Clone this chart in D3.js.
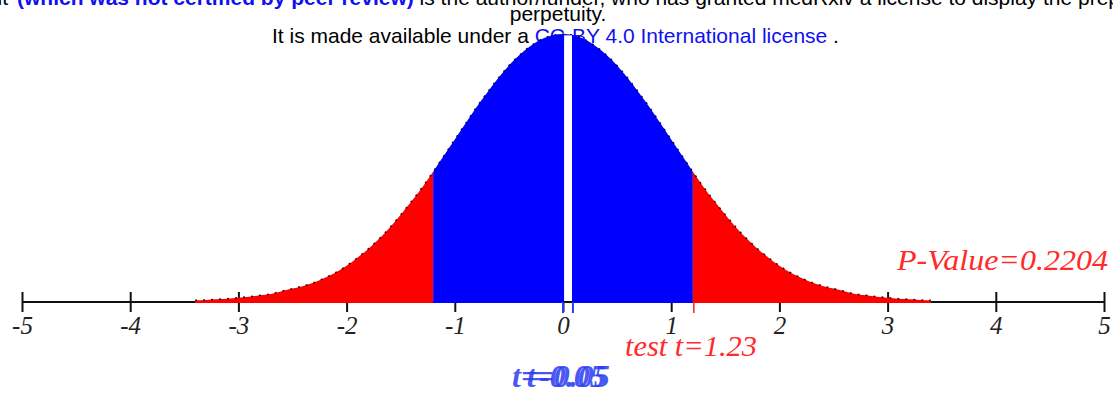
<!DOCTYPE html>
<html>
<head>
<meta charset="utf-8">
<script src="https://cdn.jsdelivr.net/npm/d3@7.9.0/dist/d3.min.js"></script>
<style>
  html, body { margin: 0; padding: 0; background: #fff; }
  svg { display: block; }
  .hdr { font-family: "Liberation Sans", Arial, sans-serif; font-size: 21px; }
  .tick text { font-family: "Liberation Serif", "Times New Roman", serif; font-style: italic; font-size: 25px; fill: #222; }
  .lbl { font-family: "Liberation Serif", "Times New Roman", serif; font-style: italic; }
</style>
</head>
<body>
<svg id="chart" width="1113" height="394"></svg>
<script>
// t grid and density heights
const tValues = [
  -3.4, -3.3, -3.2, -3.1, -3.0, -2.9, -2.8, -2.7, -2.6, -2.5,
  -2.4, -2.3, -2.2, -2.1, -2.0, -1.9, -1.8, -1.7, -1.6, -1.5,
  -1.4, -1.3, -1.2, -1.1, -1.0, -0.9, -0.8, -0.7, -0.6, -0.5,
  -0.4, -0.3, -0.2, -0.1, 0.0, 0.1, 0.2, 0.3, 0.4, 0.5,
  0.6, 0.7, 0.8, 0.9, 1.0, 1.1, 1.2, 1.3, 1.4, 1.5,
  1.6, 1.7, 1.8, 1.9, 2.0, 2.1, 2.2, 2.3, 2.4, 2.5,
  2.6, 2.7, 2.8, 2.9, 3.0, 3.1, 3.2, 3.3, 3.4
];
const density = [
  0.0025, 0.003, 0.004, 0.005, 0.0065, 0.008, 0.010, 0.012, 0.016, 0.020,
  0.024, 0.029, 0.036, 0.044, 0.054, 0.066, 0.079, 0.094, 0.111, 0.130,
  0.150, 0.171, 0.194, 0.218, 0.242, 0.266, 0.290, 0.312, 0.333, 0.352,
  0.368, 0.381, 0.391, 0.397, 0.399, 0.397, 0.391, 0.381, 0.368, 0.352,
  0.333, 0.312, 0.290, 0.266, 0.242, 0.218, 0.194, 0.171, 0.150, 0.130,
  0.111, 0.094, 0.079, 0.066, 0.054, 0.044, 0.036, 0.029, 0.024, 0.020,
  0.016, 0.012, 0.010, 0.008, 0.0065, 0.005, 0.004, 0.003, 0.0025
];
const axisTicks = [-5, -4, -3, -2, -1, 0, 1, 2, 3, 4, 5];
const critical = 1.2;          // where red tails begin
const gap = [0.01, 0.083];     // white slit near 0
const blueTicks = [0, 0.092];
const pValueText = "P-Value=0.2204";
const testText = "test t=1.23";
const blueTexts = ["t=-0.05", "t=0.05"];

const svg = d3.select('#chart');
const x = d3.scaleLinear().domain([-5, 5]).range([22, 1104]);
const y = d3.scaleLinear().domain([0, 0.399]).range([302, 34]);

const pts = tValues.map((t, i) => ({ t, d: density[i] }));

// header text (page banner)
const h1 = svg.append('text').attr('class', 'hdr').attr('y', 5);
h1.append('tspan').attr('x', 8).attr('text-anchor', 'end').attr('fill', '#000').text('preprint');
const h1b = svg.append('text').attr('class', 'hdr').attr('x', 17).attr('y', 5);
h1b.append('tspan').attr('fill', '#1010f0').attr('font-weight', 'bold').text('(which was not certified by peer review)');
h1b.append('tspan').attr('fill', '#000').text(' is the author/funder, who has granted medRxiv a license to display the preprint in');

svg.append('text').attr('class', 'hdr').attr('x', 558).attr('y', 21)
  .attr('text-anchor', 'middle').text('perpetuity.');

const h3 = svg.append('text').attr('class', 'hdr').attr('x', 272).attr('y', 43);
h3.append('tspan').attr('fill', '#000').text('It is made available under a ');
h3.append('tspan').attr('fill', '#1010f0').text('CC-BY 4.0 International license');
h3.append('tspan').attr('fill', '#000').text(' .');

// axis: ticks above and below the line
const axis = d3.axisBottom(x).tickValues(axisTicks).tickSize(20).tickSizeOuter(0)
  .tickFormat(d => String(d));
const gx = svg.append('g').attr('transform', 'translate(0,292)').call(axis);
gx.select('.domain').remove();
gx.selectAll('.tick line').attr('stroke', '#111').attr('stroke-width', 2);
gx.selectAll('.tick text').attr('y', 42).attr('dy', 0);

svg.append('line')
  .attr('x1', x(-5)).attr('x2', x(5)).attr('y1', 302).attr('y2', 302)
  .attr('stroke', '#111').attr('stroke-width', 2);

// filled regions
const area = d3.area()
  .x(p => x(p.t)).y0(303).y1(p => y(p.d))
  .curve(d3.curveMonotoneX);

const eps = 1e-9;
const regions = [
  { data: pts.filter(p => p.t <= -critical + eps), color: '#ff0000' },
  { data: pts.filter(p => p.t >= -critical - eps && p.t <= critical + eps), color: '#0000ff' },
  { data: pts.filter(p => p.t >= critical - eps), color: '#ff0000' }
];
svg.selectAll('path.region').data(regions).join('path')
  .attr('class', 'region')
  .attr('d', r => area(r.data))
  .attr('fill', r => r.color);

// dotted outline of the curve
const line = d3.line().x(p => x(p.t)).y(p => y(p.d)).curve(d3.curveMonotoneX);
svg.append('path')
  .attr('d', line(pts))
  .attr('fill', 'none')
  .attr('stroke', '#000')
  .attr('stroke-width', 1.5)
  .attr('stroke-dasharray', '2,6')
  .attr('opacity', 0.85);

// white slit
svg.append('rect')
  .attr('x', x(gap[0])).attr('width', x(gap[1]) - x(gap[0]))
  .attr('y', y(0.397)).attr('height', 303 - y(0.397))
  .attr('fill', '#fff');

svg.append('line')
  .attr('x1', x(blueTicks[0])).attr('x2', x(blueTicks[1]))
  .attr('y1', 302).attr('y2', 302)
  .attr('stroke', '#111').attr('stroke-width', 2);

svg.selectAll('line.bt').data(blueTicks).join('line')
  .attr('class', 'bt')
  .attr('x1', d => x(d)).attr('x2', d => x(d))
  .attr('y1', 302).attr('y2', 313)
  .attr('stroke', '#2a3cf0').attr('stroke-width', 2);

// red marker at the test statistic
svg.append('line')
  .attr('x1', x(critical) + 1).attr('x2', x(critical) + 1)
  .attr('y1', 302).attr('y2', 313)
  .attr('stroke', '#ff2020').attr('stroke-width', 1.5);

// labels
svg.append('text').attr('class', 'lbl')
  .attr('x', 1108).attr('y', 270).attr('text-anchor', 'end')
  .attr('font-size', 29).attr('fill', '#ff2a2a')
  .attr('textLength', 211).attr('lengthAdjust', 'spacingAndGlyphs')
  .text(pValueText);

svg.append('text').attr('class', 'lbl')
  .attr('x', 625).attr('y', 356)
  .attr('font-size', 30).attr('fill', '#ff2a2a')
  .attr('textLength', 132).attr('lengthAdjust', 'spacingAndGlyphs')
  .text(testText);

svg.append('text').attr('class', 'lbl')
  .attr('x', 512).attr('y', 387)
  .attr('font-size', 32).attr('font-weight', 'bold').attr('fill', '#2a3cf0')
  .attr('opacity', 0.85)
  .text(blueTexts[0]);
// width of the minus sign decides the shift of the second label
const probe = svg.append('text').attr('class', 'lbl')
  .attr('font-size', 32).attr('font-weight', 'bold').text('-');
const dash = probe.node().getComputedTextLength();
probe.remove();
svg.append('text').attr('class', 'lbl')
  .attr('x', 512 + dash + 4).attr('y', 387)
  .attr('font-size', 32).attr('font-weight', 'bold').attr('fill', '#2a3cf0')
  .attr('opacity', 0.85)
  .text(blueTexts[1]);
</script>
</body>
</html>
